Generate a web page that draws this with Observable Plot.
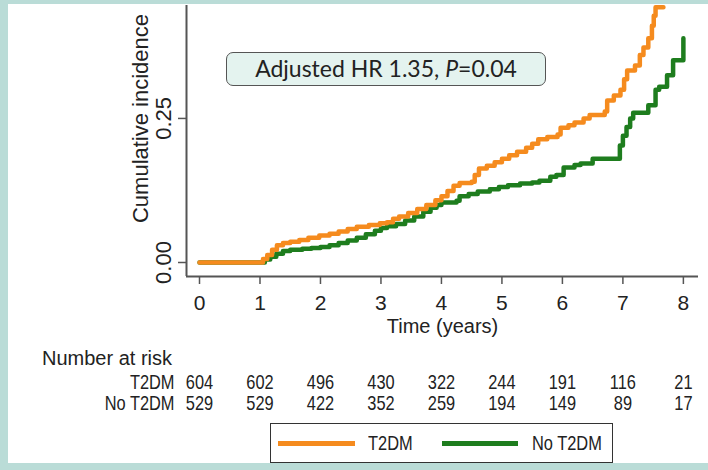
<!DOCTYPE html>
<html><head><meta charset="utf-8">
<script src="https://cdn.jsdelivr.net/npm/d3@7"></script>
<script src="https://cdn.jsdelivr.net/npm/@observablehq/plot@0.6"></script>
<style>
body{margin:0;background:#fff;}
#wrap{position:relative;width:708px;height:470px;background:#badcd7;overflow:hidden;font-family:"Liberation Sans",Arial,sans-serif;color:#222;}
#panel{position:absolute;left:8px;top:4px;right:0;bottom:7px;background:#fff;}
.abs{position:absolute;left:0;}
#note{position:absolute;left:226px;top:52px;width:320px;height:34px;box-sizing:border-box;border:1.5px solid #555;border-radius:7px;background:#e4f3ef;font-family:Lato,"Open Sans",sans-serif;font-size:23px;line-height:31px;text-align:center;color:#222;white-space:nowrap;}
#riskTitle{position:absolute;left:42px;top:346px;font-size:20px;line-height:24px;white-space:nowrap;}
#legend{position:absolute;left:270px;top:423px;width:343px;height:40px;box-sizing:border-box;border:1.5px solid #333;display:flex;align-items:center;padding-left:6.5px;font-size:20px;white-space:nowrap;}
#legend .sw{height:5px;flex:none;}
#legend .lb{flex:none;overflow:visible;}
#legend .lb span{display:inline-block;transform:scaleX(0.82);transform-origin:left center;}
</style></head><body>
<div id="wrap">
  <div id="panel"></div>
  <div id="chart" class="abs" style="top:0"></div>
  <div id="risk" class="abs" style="top:368px"></div>
  <div id="note">Adjusted HR 1.35, <i>P</i>=0.04</div>
  <div id="riskTitle">Number at risk</div>
  <div id="legend"></div>
</div>
<script>
// ---- data ----
const groups = ["T2DM", "No T2DM"];
const groupColors = ["#f58b1e", "#1e7d1e"];

const t2dmTime = [0, 1.0, 1.05, 1.12, 1.2, 1.28, 1.38, 1.5, 1.65, 1.8, 1.98, 2.15, 2.3, 2.45, 2.6, 2.8, 2.98, 3.1, 3.2, 3.3, 3.45, 3.6, 3.75, 3.9, 4.0, 4.1, 4.2, 4.3, 4.5, 4.55, 4.62, 4.75, 4.88, 5.0, 5.12, 5.25, 5.4, 5.5, 5.6, 5.75, 5.92, 5.97, 6.1, 6.2, 6.35, 6.45, 6.7, 6.74, 6.85, 6.96, 7.02, 7.07, 7.2, 7.28, 7.34, 7.42, 7.48, 7.51, 7.54, 7.67];
const t2dmIncidence = [0, 0, 0.006, 0.013, 0.022, 0.030, 0.034, 0.036, 0.039, 0.043, 0.047, 0.050, 0.054, 0.058, 0.062, 0.065, 0.068, 0.070, 0.076, 0.080, 0.086, 0.093, 0.100, 0.108, 0.115, 0.124, 0.133, 0.138, 0.140, 0.152, 0.163, 0.168, 0.174, 0.180, 0.186, 0.192, 0.199, 0.206, 0.214, 0.218, 0.222, 0.234, 0.238, 0.243, 0.250, 0.256, 0.262, 0.281, 0.290, 0.300, 0.318, 0.333, 0.342, 0.360, 0.373, 0.389, 0.411, 0.428, 0.443, 0.443];

const noT2dmTime = [0, 1.0, 1.08, 1.17, 1.27, 1.38, 1.5, 1.7, 1.85, 2.0, 2.15, 2.3, 2.45, 2.6, 2.75, 2.9, 3.0, 3.1, 3.25, 3.4, 3.55, 3.7, 3.82, 3.92, 4.0, 4.25, 4.3, 4.45, 4.6, 4.8, 4.95, 5.1, 5.3, 5.5, 5.62, 5.8, 5.9, 6.02, 6.2, 6.3, 6.5, 6.93, 6.95, 7.0, 7.06, 7.12, 7.17, 7.42, 7.54, 7.6, 7.73, 7.83, 8.0, 8.0];
const noT2dmIncidence = [0, 0, 0.005, 0.010, 0.015, 0.020, 0.022, 0.024, 0.025, 0.027, 0.030, 0.034, 0.038, 0.043, 0.049, 0.055, 0.060, 0.063, 0.067, 0.073, 0.080, 0.088, 0.095, 0.100, 0.104, 0.107, 0.115, 0.119, 0.123, 0.127, 0.131, 0.134, 0.137, 0.139, 0.142, 0.149, 0.152, 0.165, 0.169, 0.172, 0.180, 0.180, 0.203, 0.220, 0.235, 0.250, 0.260, 0.273, 0.300, 0.305, 0.325, 0.351, 0.351, 0.389];

const xTicks = [0, 1, 2, 3, 4, 5, 6, 7, 8];
const yTicks = [0, 0.25];
const riskT2DM = [604, 602, 496, 430, 322, 244, 191, 116, 21];
const riskNoT2DM = [529, 529, 422, 352, 259, 194, 149, 89, 17];
const xTitle = "Time (years)";
const yTitle = "Cumulative incidence";

// ---- build tables ----
const curves = [
  ...t2dmTime.map((t, i) => ({group: groups[0], t, v: t2dmIncidence[i]})),
  ...noT2dmTime.map((t, i) => ({group: groups[1], t, v: noT2dmIncidence[i]}))
];
const riskRows = [
  ...xTicks.map((t, i) => ({group: groups[0], t, n: riskT2DM[i]})),
  ...xTicks.map((t, i) => ({group: groups[1], t, n: riskNoT2DM[i]}))
];

const xDomain = [-0.215, 8.25];
const yDomain = [-0.0243, 0.446];
const axisCol = "#555";

const chart = Plot.plot({
  width: 708, height: 340,
  marginLeft: 186, marginRight: 10, marginTop: 5, marginBottom: 64,
  style: {fontFamily: "'Liberation Sans', Arial, sans-serif", background: "transparent", color: "#222", overflow: "visible"},
  x: {domain: xDomain, label: null},
  y: {domain: yDomain, label: null},
  marks: [
    Plot.line(curves.filter(d => d.group === groups[1]), {x: "t", y: "v", curve: "step-after", stroke: groupColors[1], strokeWidth: 4.5}),
    Plot.line(curves.filter(d => d.group === groups[0]), {x: "t", y: "v", curve: "step-after", stroke: groupColors[0], strokeWidth: 4.5}),
    Plot.ruleY([yDomain[0]], {stroke: axisCol, strokeWidth: 2}),
    Plot.ruleX([xDomain[0]], {stroke: axisCol, strokeWidth: 2}),
    Plot.axisX({ticks: xTicks, tickSize: 8, tickPadding: 11, fontSize: 21, stroke: axisCol, strokeWidth: 1.5, fill: "#222", label: null}),
    Plot.axisY({ticks: yTicks, tickSize: 8, tickFormat: () => "", stroke: axisCol, strokeWidth: 1.5, label: null}),
    Plot.text(yTicks, {y: d => d, frameAnchor: "left", textAnchor: "middle", lineAnchor: "middle", dx: -22.5, rotate: -90, text: d => d3.format(".2f")(d), fontSize: 22, fill: "#222"}),
    Plot.text([yTitle], {frameAnchor: "left", textAnchor: "middle", lineAnchor: "middle", dx: -45.5, dy: -22.5, rotate: -90, fontSize: 22, fill: "#222"}),
    Plot.text([xTitle], {frameAnchor: "bottom", textAnchor: "middle", lineAnchor: "middle", dy: 50, fontSize: 20, fill: "#222"})
  ]
});
document.getElementById("chart").append(chart);

const risk = Plot.plot({
  width: 708, height: 50,
  marginLeft: 186, marginRight: 10, marginTop: 0, marginBottom: 0,
  style: {fontFamily: "'Liberation Sans', Arial, sans-serif", background: "transparent", color: "#222", overflow: "visible"},
  x: {domain: xDomain, axis: null},
  y: {type: "point", domain: groups, range: [14, 35], padding: 0, axis: null},
  marks: [
    Plot.text(riskRows, {x: "t", y: "group", text: d => String(d.n), fontSize: 20, fill: "#222"}),
    Plot.text(groups, {x: () => xTicks[0], y: d => d, dx: -25, textAnchor: "end", fontSize: 20, fill: "#222"})
  ]
});
// condense the risk-table type horizontally (narrow face as in the reference)
risk.querySelectorAll("text").forEach(t => {
  const tr = t.getAttribute("transform");
  if (tr) {
    t.setAttribute("transform", tr + " scale(0.82,1)");
  } else {
    const x = +(t.getAttribute("x") || 0), y = +(t.getAttribute("y") || 0);
    t.removeAttribute("x"); t.removeAttribute("y");
    t.setAttribute("transform", `translate(${x},${y}) scale(0.82,1)`);
  }
});
document.getElementById("risk").append(risk);

// legend
const lg = document.getElementById("legend");
const swatchW = [77, 76];
const swatchGap = [13, 14];
const labelW = [74, 70];
groups.forEach((g, i) => {
  const sw = document.createElement("span");
  sw.className = "sw";
  sw.style.width = swatchW[i] + "px";
  sw.style.marginRight = swatchGap[i] + "px";
  sw.style.background = groupColors[i];
  const lb = document.createElement("span");
  lb.className = "lb";
  lb.style.width = labelW[i] + "px";
  const inner = document.createElement("span");
  inner.textContent = g;
  lb.append(inner);
  lg.append(sw, lb);
});
</script>
</body></html>
